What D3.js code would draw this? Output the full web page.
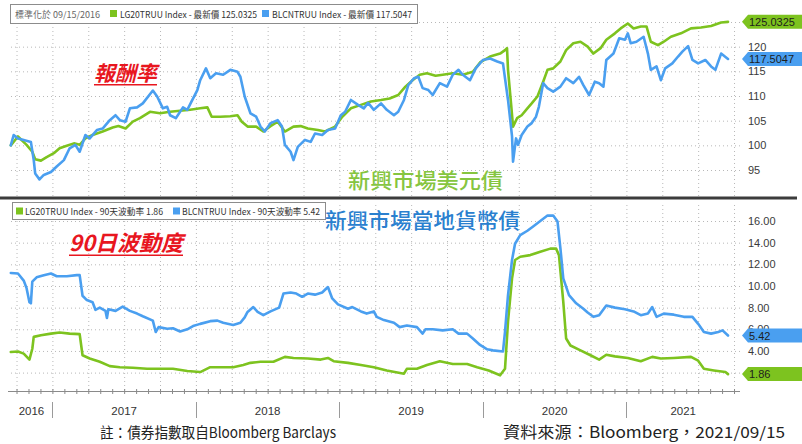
<!DOCTYPE html>
<html><head><meta charset="utf-8">
<script src="https://cdn.jsdelivr.net/npm/d3@7"></script>
<style>body{margin:0;background:#fff}svg{display:block}</style>
</head><body><svg id="c" width="802" height="444"></svg>
<script>
// ---- DATA (time as decimal year, value) ----
const priceLG20 = [[2016.71,100.0],[2016.76,101.8],[2016.82,100.1],[2016.86,98.7],[2016.88,97.2],[2016.92,96.9],[2016.96,97.6],[2017.01,98.4],[2017.05,99.4],[2017.10,99.9],[2017.15,100.4],[2017.19,100.1],[2017.23,101.4],[2017.28,102.1],[2017.35,102.8],[2017.42,103.6],[2017.46,103.9],[2017.51,103.4],[2017.56,104.8],[2017.61,105.5],[2017.68,106.8],[2017.75,106.5],[2017.82,106.8],[2017.89,107.0],[2017.96,107.2],[2018.03,107.5],[2018.08,107.7],[2018.11,105.8],[2018.17,105.8],[2018.24,105.9],[2018.29,106.1],[2018.32,104.8],[2018.36,103.8],[2018.42,103.8],[2018.47,102.8],[2018.52,103.9],[2018.57,104.8],[2018.62,102.8],[2018.68,103.8],[2018.73,103.9],[2018.78,103.4],[2018.85,103.1],[2018.90,102.8],[2018.97,103.8],[2019.02,105.8],[2019.08,107.5],[2019.15,108.2],[2019.22,108.9],[2019.29,109.2],[2019.35,109.5],[2019.41,110.2],[2019.46,111.9],[2019.51,113.2],[2019.56,114.3],[2019.61,114.6],[2019.67,114.1],[2019.72,114.3],[2019.79,114.6],[2019.86,114.3],[2019.93,114.9],[2019.98,116.8],[2020.05,118.0],[2020.12,118.6],[2020.154,119.3],[2020.168,119.7],[2020.175,115.3],[2020.196,108.5],[2020.210,103.8],[2020.238,105.5],[2020.27,106.1],[2020.31,107.5],[2020.34,108.5],[2020.38,109.9],[2020.42,112.9],[2020.45,115.3],[2020.49,115.6],[2020.54,117.0],[2020.58,119.3],[2020.63,120.7],[2020.68,121.0],[2020.73,120.0],[2020.77,118.6],[2020.82,119.7],[2020.86,121.4],[2020.92,122.7],[2020.96,123.7],[2021.01,124.7],[2021.05,123.7],[2021.10,124.1],[2021.14,124.1],[2021.17,121.0],[2021.22,120.3],[2021.26,121.0],[2021.31,122.0],[2021.38,122.7],[2021.45,123.7],[2021.52,123.9],[2021.59,124.2],[2021.66,124.9],[2021.708,125.0325]];

const priceBLCN = [[2016.71,100.0],[2016.73,102.1],[2016.76,101.4],[2016.80,101.1],[2016.85,100.7],[2016.87,97.0],[2016.88,94.3],[2016.91,93.1],[2016.94,94.0],[2016.99,94.6],[2017.03,95.7],[2017.08,97.0],[2017.12,99.4],[2017.16,100.1],[2017.19,98.7],[2017.23,102.1],[2017.26,101.4],[2017.31,103.1],[2017.35,103.4],[2017.40,105.1],[2017.44,106.1],[2017.47,105.1],[2017.51,104.8],[2017.54,107.5],[2017.59,107.7],[2017.63,108.5],[2017.70,111.1],[2017.73,109.9],[2017.77,107.5],[2017.80,107.8],[2017.82,106.1],[2017.86,105.5],[2017.91,107.7],[2017.94,107.2],[2017.97,108.9],[2018.01,111.2],[2018.03,113.2],[2018.07,115.6],[2018.10,113.6],[2018.14,114.6],[2018.19,114.3],[2018.24,115.3],[2018.29,114.9],[2018.31,113.9],[2018.34,109.9],[2018.38,106.5],[2018.42,105.8],[2018.45,103.8],[2018.48,102.8],[2018.52,104.5],[2018.57,105.1],[2018.60,103.8],[2018.62,100.1],[2018.66,98.7],[2018.68,97.0],[2018.71,99.7],[2018.76,101.1],[2018.80,100.7],[2018.83,102.4],[2018.88,102.1],[2018.92,103.1],[2018.97,103.4],[2019.01,106.1],[2019.04,106.8],[2019.08,109.2],[2019.13,108.2],[2019.17,107.5],[2019.20,108.6],[2019.24,107.2],[2019.29,108.5],[2019.33,107.2],[2019.38,106.1],[2019.41,106.8],[2019.45,109.2],[2019.48,112.2],[2019.52,113.6],[2019.55,113.9],[2019.58,111.6],[2019.62,111.2],[2019.65,110.2],[2019.70,112.6],[2019.75,111.9],[2019.79,114.3],[2019.83,115.3],[2019.86,114.3],[2019.91,113.2],[2019.95,115.6],[2020.00,117.3],[2020.05,117.6],[2020.10,117.0],[2020.14,116.6],[2020.154,113.6],[2020.175,109.2],[2020.203,101.8],[2020.210,96.7],[2020.231,101.4],[2020.245,100.1],[2020.27,102.1],[2020.31,103.8],[2020.34,104.5],[2020.37,105.8],[2020.39,107.8],[2020.42,112.6],[2020.45,111.6],[2020.49,110.9],[2020.54,111.9],[2020.58,113.6],[2020.63,112.6],[2020.67,113.9],[2020.70,112.2],[2020.74,110.2],[2020.78,112.9],[2020.81,112.6],[2020.84,111.9],[2020.86,117.3],[2020.91,118.6],[2020.95,121.7],[2020.99,121.4],[2021.01,122.7],[2021.03,120.7],[2021.07,121.0],[2021.12,122.0],[2021.15,118.6],[2021.17,115.3],[2021.21,116.0],[2021.24,113.2],[2021.27,115.6],[2021.32,116.6],[2021.36,118.0],[2021.39,119.0],[2021.43,120.1],[2021.46,117.3],[2021.50,116.6],[2021.55,117.3],[2021.59,116.0],[2021.62,115.3],[2021.66,118.6],[2021.708,117.5047]];

const volLG20 = [[2016.71,3.9],[2016.76,3.95],[2016.80,3.75],[2016.84,3.2],[2016.86,4.2],[2016.87,5.3],[2016.92,5.45],[2016.99,5.6],[2017.05,5.7],[2017.12,5.6],[2017.19,5.55],[2017.21,3.6],[2017.26,3.3],[2017.33,3.0],[2017.40,2.6],[2017.47,2.5],[2017.56,2.45],[2017.66,2.35],[2017.75,2.35],[2017.84,2.35],[2017.94,2.15],[2018.03,2.05],[2018.10,2.5],[2018.17,2.5],[2018.26,2.5],[2018.33,2.7],[2018.38,2.9],[2018.45,3.0],[2018.54,3.0],[2018.62,3.45],[2018.68,3.35],[2018.78,3.3],[2018.87,3.2],[2018.92,3.35],[2018.96,3.05],[2019.06,2.9],[2019.15,2.7],[2019.24,2.5],[2019.33,2.2],[2019.45,1.9],[2019.47,2.35],[2019.54,2.35],[2019.61,2.7],[2019.70,3.05],[2019.79,2.8],[2019.89,2.8],[2019.96,2.5],[2020.04,2.2],[2020.12,1.75],[2020.154,2.35],[2020.175,6.7],[2020.203,10.7],[2020.224,12.4],[2020.26,12.7],[2020.33,12.85],[2020.40,13.15],[2020.47,13.45],[2020.51,13.45],[2020.53,12.85],[2020.56,8.55],[2020.58,5.15],[2020.61,4.5],[2020.68,4.05],[2020.75,3.6],[2020.81,3.2],[2020.86,3.65],[2020.92,3.5],[2021.01,3.35],[2021.10,3.05],[2021.18,3.45],[2021.24,3.3],[2021.33,3.35],[2021.45,3.45],[2021.50,3.1],[2021.54,2.35],[2021.61,2.2],[2021.69,2.05],[2021.708,1.86]];

const volBLCN = [[2016.71,11.2],[2016.76,11.15],[2016.80,10.5],[2016.82,9.8],[2016.84,8.5],[2016.85,8.4],[2016.86,10.4],[2016.89,10.8],[2016.94,11.0],[2016.99,11.15],[2017.03,10.9],[2017.10,10.9],[2017.17,11.0],[2017.19,11.0],[2017.21,9.1],[2017.24,8.7],[2017.28,8.5],[2017.30,7.8],[2017.33,8.0],[2017.37,7.7],[2017.38,7.05],[2017.39,7.85],[2017.44,7.7],[2017.49,8.1],[2017.54,7.7],[2017.59,7.45],[2017.63,7.2],[2017.70,6.8],[2017.72,5.75],[2017.74,6.2],[2017.80,6.05],[2017.84,6.1],[2017.89,5.8],[2017.94,6.0],[2017.98,6.3],[2018.03,6.5],[2018.10,6.75],[2018.15,6.8],[2018.19,6.6],[2018.26,6.4],[2018.31,6.6],[2018.34,7.1],[2018.36,7.6],[2018.40,8.05],[2018.43,7.6],[2018.47,7.3],[2018.52,7.65],[2018.58,8.0],[2018.61,9.3],[2018.66,9.4],[2018.70,9.3],[2018.74,9.0],[2018.78,9.3],[2018.83,9.2],[2018.88,9.4],[2018.92,9.9],[2018.95,8.85],[2018.99,8.3],[2019.06,7.9],[2019.09,8.05],[2019.15,7.65],[2019.19,7.45],[2019.24,7.65],[2019.26,7.15],[2019.31,6.85],[2019.38,6.6],[2019.42,6.2],[2019.47,6.35],[2019.54,6.2],[2019.58,5.6],[2019.60,6.0],[2019.65,6.0],[2019.72,5.9],[2019.79,6.0],[2019.83,5.6],[2019.89,5.6],[2019.93,5.15],[2019.98,4.55],[2020.03,4.15],[2020.07,4.05],[2020.14,3.95],[2020.154,5.75],[2020.175,9.15],[2020.203,12.4],[2020.224,13.9],[2020.26,14.7],[2020.31,15.1],[2020.35,15.5],[2020.40,16.0],[2020.45,16.5],[2020.49,16.5],[2020.52,15.95],[2020.54,13.5],[2020.56,10.7],[2020.60,9.15],[2020.65,8.4],[2020.70,7.9],[2020.73,7.55],[2020.77,7.15],[2020.81,7.3],[2020.86,8.2],[2020.92,8.0],[2020.99,7.85],[2021.05,7.65],[2021.10,7.3],[2021.15,7.45],[2021.18,8.05],[2021.21,7.15],[2021.26,7.45],[2021.33,7.35],[2021.40,7.15],[2021.46,7.15],[2021.50,6.5],[2021.54,5.75],[2021.59,5.6],[2021.64,5.75],[2021.67,5.9],[2021.708,5.42]];

const topTicks = [95, 100, 105, 110, 115, 120, 125];
const botTicks = [2, 4, 6, 8, 10, 12, 14, 16];
const yearLabels = ["2016", "2017", "2018", "2019", "2020", "2021"];
const topLegend = ["標準化於 09/15/2016", "LG20TRUU Index - 最新價 125.0325", "BLCNTRUU Index - 最新價 117.5047"];
const botLegend = ["LG20TRUU Index - 90天波動率 1.86", "BLCNTRUU Index - 90天波動率 5.42"];
const lastTop = [125.0325, 117.5047];
const lastBot = [5.42, 1.86];
const notes = ["報酬率", "新興市場美元債", "新興市場當地貨幣債", "90日波動度"];
const footer = ["註：債券指數取自Bloomberg Barclays", "資料來源：Bloomberg，2021/09/15"];

// ---- DRAW ----
const GREEN = "#7dc31f", BLUE = "#4a9ff0";
const CJK = "'Noto Sans CJK TC','Noto Sans',sans-serif";
const NUM = "'Liberation Sans',Arial,sans-serif";
const svg = d3.select("#c");
svg.append("rect").attr("width", 802).attr("height", 444).attr("fill", "#fff");

const t0 = 2016.708, t1 = 2021.708;
const x = d3.scaleLinear().domain([t0, t1]).range([10.5, 728]);
const plotL = 8, plotR = 740;
const yTop = d3.scaleLinear().domain([95, 125]).range([170, 22]);
const yBot = d3.scaleLinear().domain([2, 16]).range([372.6, 221]);
const quarters = d3.range(0, 21).map(i => 2016.75 + i * 0.25);
const months = d3.range(0, 61).map(i => 2016.75 + i / 12);

function dotted(g) {
  g.select(".domain").remove();
  g.selectAll(".tick line").attr("stroke", "#b8b8b8").attr("stroke-dasharray", "1,3").attr("stroke-width", 1);
}
// horizontal gridlines
svg.append("g").attr("transform", `translate(${plotR},0)`)
  .call(d3.axisLeft(yTop).tickValues(topTicks).tickSize(plotR - plotL).tickFormat(""))
  .call(dotted);
svg.append("g").attr("transform", `translate(${plotR},0)`)
  .call(d3.axisLeft(yBot).tickValues(botTicks).tickSize(plotR - plotL).tickFormat(""))
  .call(dotted);
// vertical gridlines
svg.append("g").attr("transform", "translate(0,196)")
  .call(d3.axisBottom(x).tickValues(quarters).tickSize(-172).tickFormat(""))
  .call(dotted);
svg.append("g").attr("transform", "translate(0,390)")
  .call(d3.axisBottom(x).tickValues(quarters).tickSize(-188).tickFormat(""))
  .call(dotted);

// x axis with monthly ticks
const xa = svg.append("g").attr("transform", "translate(0,391)")
  .call(d3.axisBottom(x).tickValues(months).tickSize(3).tickFormat(""));
xa.select(".domain").attr("stroke", "#8a8a8a").attr("d", `M${plotL},0.5H${plotR}`);
xa.selectAll(".tick line").attr("stroke", "#8a8a8a").attr("y1", -2);

// year separators & labels
const yearStarts = d3.range(2017, 2022);
svg.append("g").selectAll("line").data(yearStarts).join("line")
  .attr("x1", d => Math.round(x(d)) + 0.5).attr("x2", d => Math.round(x(d)) + 0.5)
  .attr("y1", 402).attr("y2", 418).attr("stroke", "#9a9a9a");
const tEnd = x.invert(plotR);
svg.append("g").selectAll("text").data(yearLabels).join("text")
  .attr("x", d => { const y = +d; return (x(Math.max(y, t0)) + x(Math.min(y + 1, tEnd))) / 2; })
  .attr("y", 415).attr("text-anchor", "middle")
  .attr("font-family", NUM).attr("font-size", 11.5).attr("fill", "#333").text(d => d);

// separator between panels
svg.append("rect").attr("x", 0).attr("y", 196.5).attr("width", 797).attr("height", 3).attr("fill", "#3c3c3c");

// lines
const lineTop = d3.line().x(d => x(d[0])).y(d => yTop(d[1]));
const lineBot = d3.line().x(d => x(d[0])).y(d => yBot(d[1]));
function drawLine(data, gen, color) {
  svg.append("path").datum(data).attr("d", gen).attr("fill", "none")
    .attr("stroke", color).attr("stroke-width", 2.6).attr("stroke-linejoin", "round").attr("stroke-linecap", "round");
}
drawLine(priceLG20, lineTop, GREEN);
drawLine(priceBLCN, lineTop, BLUE);
drawLine(volLG20, lineBot, GREEN);
drawLine(volBLCN, lineBot, BLUE);

// right axis labels (labels fully hidden behind a value tag are skipped, as in the original)
const hiddenTop = topTicks.filter(v => !lastTop.some(l => Math.abs(yTop(v) - yTop(l)) < 4));
const hiddenBot = botTicks.filter(v => !lastBot.some(l => Math.abs(yBot(v) - yBot(l)) < 4));
const ta = svg.append("g").attr("transform", "translate(745,0)")
  .call(d3.axisRight(yTop).tickValues(hiddenTop).tickSize(0).tickPadding(3).tickFormat(d3.format("d")));
const ba = svg.append("g").attr("transform", "translate(745,0)")
  .call(d3.axisRight(yBot).tickValues(hiddenBot).tickSize(0).tickPadding(3).tickFormat(d3.format(".2f")));
[ta, ba].forEach(g => {
  g.select(".domain").remove();
  g.selectAll("text").attr("font-family", NUM).attr("font-size", 11).attr("fill", "#3a3a3a");
});

// value tags
function tag(yPix, color, label) {
  const h = 14, tipX = 742, bx = 748;
  svg.append("path").attr("d", `M${tipX},${yPix}L${bx},${yPix - h / 2}H802V${yPix + h / 2}H${bx}Z`).attr("fill", color);
  svg.append("text").attr("x", 749).attr("y", yPix + 4).attr("font-family", NUM).attr("font-size", 11)
    .attr("fill", "#1d1d1d").text(label);
}
tag(yTop(lastTop[0]), GREEN, d3.format(".4f")(lastTop[0]));
tag(yTop(lastTop[1]), BLUE, d3.format(".4f")(lastTop[1]));
tag(yBot(lastBot[0]), BLUE, d3.format(".2f")(lastBot[0]));
tag(yBot(lastBot[1]), GREEN, d3.format(".2f")(lastBot[1]));

// legends
function legendBox(bx, by, bw, bh) {
  svg.append("rect").attr("x", bx + 0.5).attr("y", by + 0.5).attr("width", bw).attr("height", bh)
    .attr("fill", "#fff").attr("stroke", "#8c8c8c");
}
function legText(tx, ty, w, s, col) {
  svg.append("text").attr("x", tx).attr("y", ty).attr("font-family", CJK).attr("font-size", 9)
    .attr("fill", col || "#333").attr("textLength", w).attr("lengthAdjust", "spacingAndGlyphs").text(s);
}
legendBox(10, 4, 407, 19);
legText(15, 17.5, 85, topLegend[0], "#666");
svg.append("rect").attr("x", 110).attr("y", 10).attr("width", 7).attr("height", 7).attr("fill", GREEN);
legText(120, 17.5, 137, topLegend[1]);
svg.append("rect").attr("x", 262).attr("y", 10).attr("width", 7).attr("height", 7).attr("fill", BLUE);
legText(272, 17.5, 140, topLegend[2]);

legendBox(12, 202, 313, 17);
svg.append("rect").attr("x", 16).attr("y", 207.5).attr("width", 7).attr("height", 7).attr("fill", GREEN);
legText(25, 214.5, 138, botLegend[0]);
svg.append("rect").attr("x", 173).attr("y", 207.5).attr("width", 7).attr("height", 7).attr("fill", BLUE);
legText(182, 214.5, 138, botLegend[1]);

// annotations
function note(s, tx, ty, size, col, italic, w, underline) {
  svg.append("text").attr("x", tx).attr("y", ty).attr("font-family", CJK).attr("font-size", size)
    .attr("font-style", italic ? "italic" : "normal").attr("font-weight", italic ? "bold" : 500)
    .attr("fill", col).attr("textLength", w).attr("lengthAdjust", "spacingAndGlyphs").text(s);
  if (underline) svg.append("rect").attr("x", tx).attr("y", underline).attr("width", w).attr("height", 1.5).attr("fill", col);
}
note(notes[0], 94, 81, 21, "#e8161f", true, 63, 84);
note(notes[1], 348, 188, 21, "#86c540", false, 155, null);
note(notes[2], 325, 228, 21, "#2a80cf", false, 195, null);
note(notes[3], 69, 251, 22, "#e8161f", true, 114, 254.5);

// footer
svg.append("text").attr("x", 100).attr("y", 438).attr("font-family", CJK).attr("font-size", 15).attr("fill", "#222")
  .attr("textLength", 236).attr("lengthAdjust", "spacingAndGlyphs").text(footer[0]);
svg.append("text").attr("x", 503).attr("y", 438).attr("font-family", CJK).attr("font-size", 15.5).attr("fill", "#222")
  .attr("textLength", 282).attr("lengthAdjust", "spacingAndGlyphs").text(footer[1]);
</script></body></html>
